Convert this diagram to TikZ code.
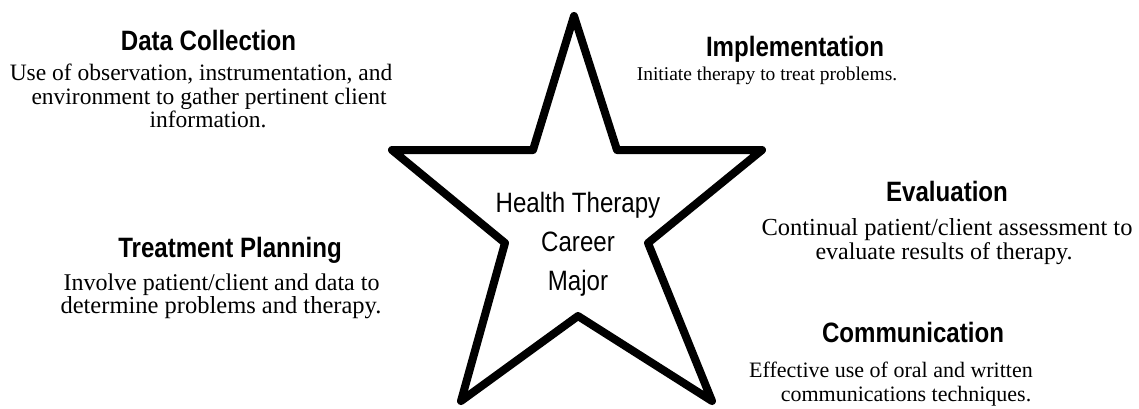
\documentclass[tikz,border=0pt]{standalone}
\usepackage{fontspec}
\newfontfamily\headfont[FakeStretch=0.86]{Liberation Sans}
\newfontfamily\bodyfont{Liberation Serif}
\begin{document}
\begin{tikzpicture}[x=1pt,y=-1pt,
  head/.style={anchor=base,inner sep=0pt,font=\headfont\bfseries\fontsize{28}{28}\selectfont},
  centretext/.style={anchor=base,inner sep=0pt,font=\headfont\fontsize{28}{28}\selectfont},
  body/.style={anchor=base,inner sep=0pt,font=\bodyfont\fontsize{#1}{#1}\selectfont},
  starline/.style={line width=8pt,line join=round,draw=black}]
\useasboundingbox (0,0) rectangle (1139,408);
% star
\coordinate (T) at (574,16);
\coordinate (ITR) at (617,150);
\coordinate (R) at (762,150);
\coordinate (IR) at (648,243);
\coordinate (BR) at (712,401);
\coordinate (IB) at (578,316);
\coordinate (BL) at (461,401);
\coordinate (IL) at (505,243);
\coordinate (L) at (392,150);
\coordinate (ITL) at (533,150);
\draw[starline] (T) -- (ITR) -- (R) -- (IR) -- (BR) -- (IB) -- (BL) -- (IL) -- (L) -- (ITL) -- cycle;
% centre text
\node[centretext] (c1) at (578,212) {Health Therapy};
\node[centretext] (c2) at (578,251) {Career};
\node[centretext] (c3) at (578,290) {Major};
% Data Collection
\node[head] (dch) at (208.5,50) {Data Collection};
\node[body=23.5] (dc1) at (201,80) {Use of observation, instrumentation, and};
\node[body=23.5] (dc2) at (209,104) {environment to gather pertinent client};
\node[body=23.5] (dc3) at (208,127) {information.};
% Implementation
\node[head] (imh) at (795,56) {Implementation};
\node[body=19.5] (im1) at (767,80) {Initiate therapy to treat problems.};
% Evaluation
\node[head] (evh) at (947,201) {Evaluation};
\node[body=24.5] (ev1) at (947,235) {Continual patient/client assessment to};
\node[body=24] (ev2) at (944,259) {evaluate results of therapy.};
% Treatment Planning
\node[head] (tph) at (230,257) {Treatment Planning};
\node[body=24] (tp1) at (221.5,290) {Involve patient/client and data to};
\node[body=24.5] (tp2) at (221,313) {determine problems and therapy.};
% Communication
\node[head] (coh) at (913,342) {Communication};
\node[body=22] (co1) at (891,377) {Effective use of oral and written};
\node[body=22] (co2) at (906,401) {communications techniques.};
\end{tikzpicture}
\end{document}
